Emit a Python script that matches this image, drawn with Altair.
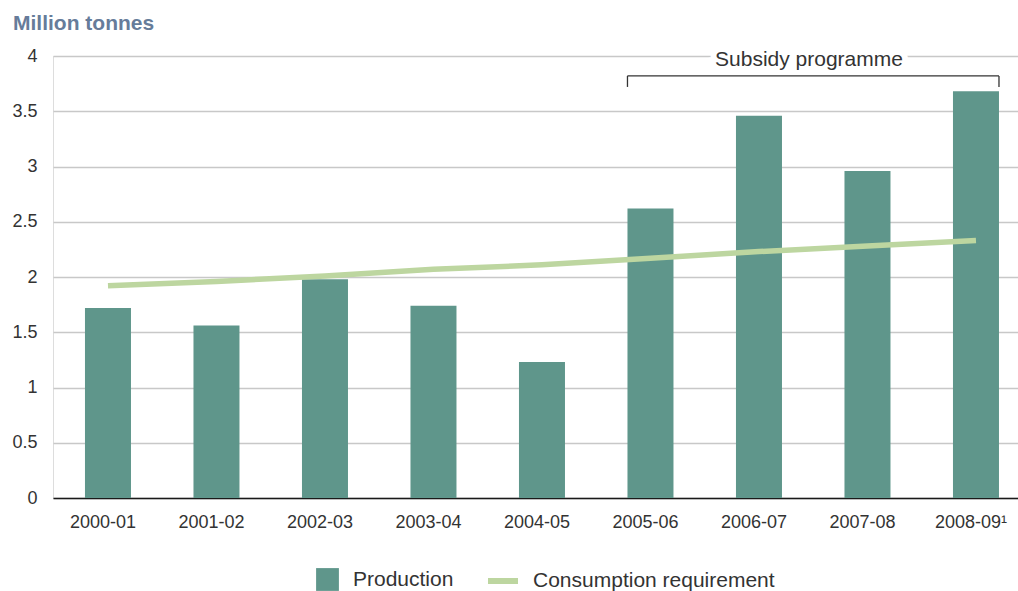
import altair as alt
import pandas as pd

# ---- data ----
years = ["2000-01", "2001-02", "2002-03", "2003-04", "2004-05",
         "2005-06", "2006-07", "2007-08", "2008-09"]
production = [1.72, 1.56, 1.98, 1.74, 1.23, 2.62, 3.46, 2.96, 3.68]
consumption = [1.92, 1.96, 2.01, 2.07, 2.11, 2.17, 2.23, 2.28, 2.33]
y_ticks = [0, 0.5, 1, 1.5, 2, 2.5, 3, 3.5, 4]

bracket_start = ["2005-06"]
bracket_end = ["2008-09"]
bracket_top = [3.82]
bracket_low = [3.72]
annot_text = ["Subsidy programme"]
annot_cat = ["2006-07"]
annot_y = [3.905]

FONT = "Liberation Sans"
BAR = "#5f968b"
LINE = "#bdd6a0"
TXT = "#333333"

df = pd.DataFrame({"year": years, "production": production,
                   "consumption": consumption})
df["s1"] = "Production"
df["s2"] = "Consumption requirement"

br = pd.DataFrame({"start": bracket_start, "end": bracket_end,
                   "top": bracket_top, "low": bracket_low})
ann = pd.DataFrame({"year": annot_cat, "y": annot_y, "label": annot_text})

xscale = alt.Scale(domain=years, paddingInner=0.576, paddingOuter=0.235,
                   align=0.627, round=False)
yscale = alt.Scale(domain=[0, 4], nice=False)

xaxis = alt.Axis(title=None, labelAngle=0, ticks=False, grid=False,
                 domain=True, domainColor="#1a1a1a", domainWidth=1.5,
                 labelFont=FONT, labelFontSize=18, labelColor=TXT,
                 labelPadding=15, labelOffset=-5,
                 labelExpr="datum.value == '2008-09' ? '2008-09\u00b9' : datum.value")
yaxis = alt.Axis(title=None, values=y_ticks, format="~g", domain=False,
                 ticks=False, grid=True, gridColor="#c8c8c8", gridWidth=1.5,
                 labelFont=FONT, labelFontSize=18, labelColor=TXT,
                 labelPadding=16)

base = alt.Chart(df)

bars = base.mark_bar().encode(
    x=alt.X("year:N", scale=xscale, axis=xaxis, sort=years),
    y=alt.Y("production:Q", scale=yscale, axis=yaxis),
    fill=alt.Fill("s1:N", scale=alt.Scale(domain=["Production"], range=[BAR]),
                  legend=alt.Legend(title=None, orient="none", legendX=263,
                                    legendY=512, symbolType="square",
                                    symbolSize=520, symbolStrokeWidth=0,
                                    labelFont=FONT, labelFontSize=21,
                                    labelColor=TXT, labelOffset=14,
                                    labelLimit=0, padding=0)),
)

line = base.mark_line(strokeWidth=5.5, strokeCap="butt").encode(
    x=alt.X("year:N", sort=years),
    y=alt.Y("consumption:Q"),
    stroke=alt.Stroke("s2:N",
                      scale=alt.Scale(domain=["Consumption requirement"],
                                      range=[LINE]),
                      legend=alt.Legend(title=None, orient="none", legendX=432,
                                        legendY=507, symbolType="stroke",
                                        symbolSize=900, symbolStrokeWidth=6,
                                        labelFont=FONT, labelFontSize=21,
                                        labelColor=TXT, labelOffset=12,
                                        labelLimit=0, padding=0)),
)

brc = alt.Chart(br)
hline = brc.mark_rule(color="#333333", strokeWidth=1.3).encode(
    x=alt.X("start:N", bandPosition=0),
    x2=alt.X2("end", bandPosition=1),
    y=alt.Y("top:Q"),
)
tick_l = brc.mark_rule(color="#333333", strokeWidth=1.3).encode(
    x=alt.X("start:N", bandPosition=0),
    y=alt.Y("low:Q"),
    y2=alt.Y2("top"),
)
tick_r = brc.mark_rule(color="#333333", strokeWidth=1.3).encode(
    x=alt.X("end:N", bandPosition=1),
    y=alt.Y("low:Q"),
    y2=alt.Y2("top"),
)

annc = alt.Chart(ann)
halo = annc.mark_text(font=FONT, fontSize=21, color="white", stroke="white",
                      strokeWidth=12, baseline="alphabetic", dx=50).encode(
    x=alt.X("year:N"), y=alt.Y("y:Q"), text="label:N")
label = annc.mark_text(font=FONT, fontSize=21, color=TXT,
                       baseline="alphabetic", dx=50).encode(
    x=alt.X("year:N"), y=alt.Y("y:Q"), text="label:N")

chart = alt.layer(bars, line, halo, hline, tick_l, tick_r, label).properties(
    width=965, height=442,
    autosize=alt.AutoSizeParams(type="none"),
    padding={"left": 53, "top": 56, "right": 0, "bottom": 93},
    title=alt.TitleParams("Million tonnes", anchor="start", frame="group",
                          fontSize=21, fontWeight="bold", color="#667c9a",
                          font=FONT, dx=-40, offset=13),
).configure_view(strokeWidth=0).configure(background="white")

chart.save("out.html", embed_options={"renderer": "svg", "actions": False})
